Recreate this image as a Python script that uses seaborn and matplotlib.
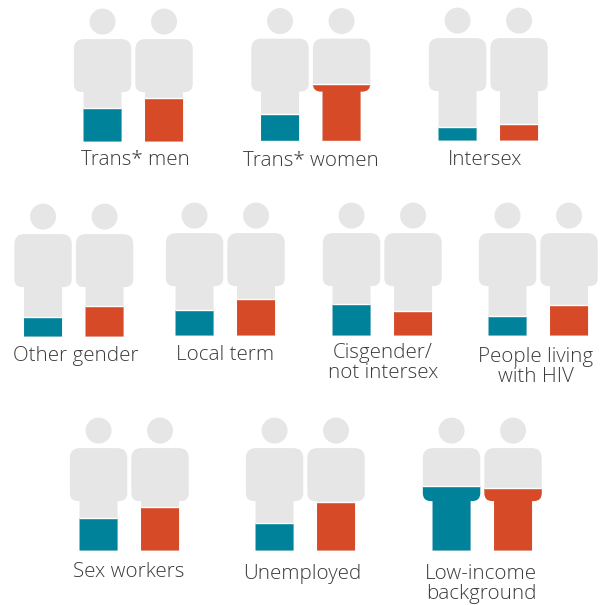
import matplotlib
matplotlib.use("Agg")
import matplotlib.pyplot as plt
from matplotlib.path import Path
from matplotlib.patches import PathPatch, Ellipse
import pandas as pd
import seaborn as sns

W, H = 602, 605
GRAY, TEAL, ORANGE, TEXT = "#E6E6E6", "#00829B", "#D64A28", "#3A3A3A"

labels = ["Trans* men", "Trans* women", "Intersex", "Other gender", "Local term",
          "Cisgender/\nnot intersex", "People living\nwith HIV", "Sex workers",
          "Unemployed", "Low-income\nbackground"]
teal_values = [25.1, 20.3, 10.2, 14.7, 19.2, 23.6, 14.7, 24.4, 20.6, 48.3]
orange_values = [32.6, 42.7, 12.4, 22.9, 27.4, 18.4, 22.9, 32.6, 36.3, 46.8]
groups = ["teal", "orange"]

# pixel layout: panel centre x, panel bottom y, label centre x, label centre y
centre_x = [133.3, 310.8, 488.3, 73.8, 225.3, 382.3, 538.3, 129.3, 305.3, 482.3]
bottom_y = [141.6, 141.1, 140.6, 336.6, 335.6, 335.6, 335.6, 550.6, 550.6, 550.6]
label_x = [135, 310.5, 485.5, 75.5, 225, 383, 535.5, 128.5, 302, 481]
label_y = [160, 161, 160, 356, 355, 363, 367, 572, 574, 584]

STEP, PH = 61.5, 134.0   # px per category, px for y-range 0-100


def person(xc):
    """Silhouette as a Path in data coordinates."""
    def P(dx, h):
        return (xc + dx / STEP, h / PH * 100)
    lw, bw, top, low, rt, rb = 19, 28.7, 102.5, 49.5, 10, 8
    verts = [P(-lw, 0), P(-lw, low),
             P(-bw + rb, low), P(-bw, low), P(-bw, low + rb),
             P(-bw, top - rt), P(-bw, top), P(-bw + rt, top),
             P(bw - rt, top), P(bw, top), P(bw, top - rt),
             P(bw, low + rb), P(bw, low), P(bw - rb, low),
             P(lw, low), P(lw, 0), P(-lw, 0)]
    codes = [Path.MOVETO, Path.LINETO,
             Path.LINETO, Path.CURVE3, Path.CURVE3,
             Path.LINETO, Path.CURVE3, Path.CURVE3,
             Path.LINETO, Path.CURVE3, Path.CURVE3,
             Path.LINETO, Path.CURVE3, Path.CURVE3,
             Path.LINETO, Path.LINETO, Path.CLOSEPOLY]
    return Path(verts, codes)


sns.set_theme(style="white")
plt.rcParams["font.family"] = ["Open Sans", "DejaVu Sans"]
fig = plt.figure(figsize=(W / 100, H / 100), dpi=100, facecolor="white")

for i, label in enumerate(labels):
    left = (centre_x[i] - STEP) / W
    bottom = (H - bottom_y[i]) / H
    ax = fig.add_axes([left, bottom, 2 * STEP / W, PH / H])
    df = pd.DataFrame({"group": groups, "value": [teal_values[i], orange_values[i]]})
    sns.barplot(data=df, x="group", y="value", hue="group", order=groups, hue_order=groups,
                palette=[TEAL, ORANGE], width=1, saturation=1, legend=False, ax=ax, zorder=3)
    ax.set_xlim(-0.5, 1.5)
    ax.set_ylim(0, 100)
    ax.axis("off")
    for k, bar in enumerate(ax.patches):
        sil = PathPatch(person(k), facecolor=GRAY, edgecolor="none", zorder=1)
        ax.add_patch(sil)
        bar.set_clip_path(sil)
        ax.add_patch(Ellipse((k, 120 / PH * 100), 26 / STEP, 26 / PH * 100,
                             facecolor=GRAY, edgecolor="none", zorder=1))
    fig.text(label_x[i] / W, 1 - label_y[i] / H, label, ha="center", va="center",
             fontsize=14.8, color=TEXT, linespacing=1.03, fontweight="light")

fig.savefig("out.png", dpi=100)
